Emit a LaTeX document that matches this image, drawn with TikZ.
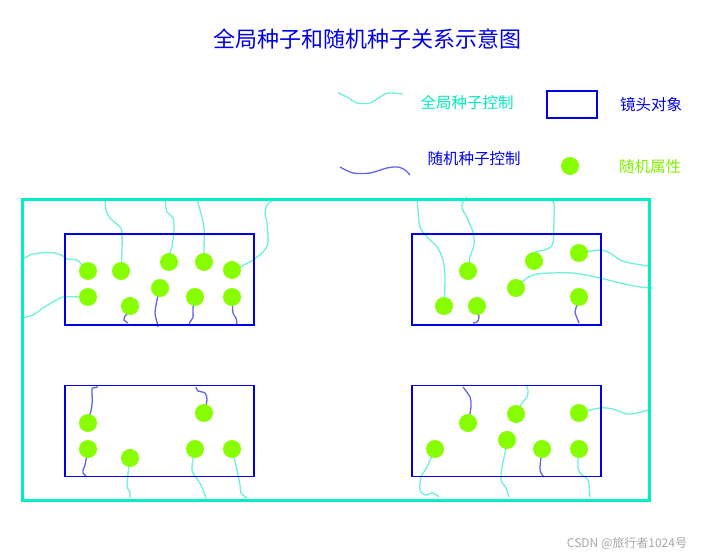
\documentclass[tikz,border=0pt]{standalone}
\usepackage{fontspec}
\setmainfont{Noto Sans CJK SC}
\usepackage{xcolor}
\usepackage{tikz}
\usetikzlibrary{positioning}

\definecolor{framecyan}{RGB}{0,240,196}
\definecolor{seedcyan}{RGB}{110,240,220}
\definecolor{seedblue}{RGB}{100,100,230}
\definecolor{lensblue}{RGB}{0,0,230}
\definecolor{attrgreen}{RGB}{136,255,0}
\definecolor{textcyan}{RGB}{0,235,190}
\definecolor{textgreen}{RGB}{130,240,0}

\pgfdeclarelayer{back}
\pgfsetlayers{back,main}

\begin{document}
\begin{tikzpicture}[x=1pt,y=-1pt,
  lens/.style={draw=lensblue,line width=1.2pt,minimum width=189pt,minimum height=91pt,inner sep=0pt},
  attr/.style={circle,fill=attrgreen,minimum size=18pt,inner sep=0pt},
  gseed/.style={draw=seedcyan,line width=1.3pt},
  rseed/.style={draw=seedblue,line width=1.3pt},
  lbl/.style={inner sep=0pt,font=\fontsize{15.5}{18}\selectfont}]
  \useasboundingbox (0,0) rectangle (706,556);

  \node[inner sep=0pt,text=lensblue,font=\fontsize{22}{26}\selectfont] (title) at (367,39) {全局种子和随机种子关系示意图};

  % legend
  \draw[gseed] plot[smooth] coordinates {(338,93) (347,97) (357,103) (370,103) (380,97) (388,93) (403,94)};
  \node[lbl,text=textcyan] (lg1) at (467,103) {全局种子控制};
  \node[draw=lensblue,line width=1.2pt,minimum width=50pt,minimum height=27pt,inner sep=0pt] (lgbox) at (572,104.5) {};
  \node[lbl,text=lensblue] (lg2) at (651,105) {镜头对象};
  \draw[rseed] plot[smooth] coordinates {(340,167) (353,173) (370,173) (387,168) (398,167) (405,170) (410,175)};
  \node[lbl,text=lensblue] (lg3) at (474,159) {随机种子控制};
  \node[attr] (lgdot) at (570,166) {};
  \node[lbl,text=textgreen] (lg4) at (650,167) {随机属性};

  % lens boxes
  \node[lens] (boxa) at (159.5,279.5) {};
  \node[lens] (boxb) at (506.5,279.5) {};
  \node[lens] (boxc) at (159.5,431) {};
  \node[lens] (boxd) at (506.5,431) {};

  % attributes
  \node[attr] (a1) at (88,271) {};
  \node[attr] (a2) at (121,271) {};
  \node[attr] (a3) at (169,262) {};
  \node[attr] (a4) at (204,262) {};
  \node[attr] (a5) at (232,270) {};
  \node[attr] (a6) at (88,297) {};
  \node[attr] (a7) at (130,306) {};
  \node[attr] (a8) at (160,288) {};
  \node[attr] (a9) at (195,297) {};
  \node[attr] (a10) at (232,297) {};

  \node[attr] (b1) at (444,306) {};
  \node[attr] (b2) at (468,271) {};
  \node[attr] (b3) at (477,306) {};
  \node[attr] (b4) at (534,261) {};
  \node[attr] (b5) at (516,288) {};
  \node[attr] (b6) at (579,253) {};
  \node[attr] (b7) at (579,297) {};

  \node[attr] (c1) at (88,423) {};
  \node[attr] (c2) at (204,413) {};
  \node[attr] (c3) at (88,449) {};
  \node[attr] (c4) at (130,458) {};
  \node[attr] (c5) at (195,449) {};
  \node[attr] (c6) at (232,449) {};

  \node[attr] (d1) at (435,449) {};
  \node[attr] (d2) at (468,423) {};
  \node[attr] (d3) at (516,414) {};
  \node[attr] (d4) at (507,440) {};
  \node[attr] (d5) at (542,449) {};
  \node[attr] (d6) at (579,413) {};
  \node[attr] (d7) at (579,449) {};

  % seed lines
  \begin{pgfonlayer}{back}
    \draw[gseed] plot[smooth] coordinates {(a1) (82,265) (77,260) (67,259) (63,256) (55,253) (40,253) (30,255) (22,260)};
    \draw[gseed] plot[smooth] coordinates {(a6) (80,297) (63,297) (53,302) (43,308) (33,315) (22,318)};
    \draw[gseed] plot[smooth] coordinates {(a2) (122,250) (122,233) (120,227) (110,218) (106,210) (105,199)};
    \draw[gseed] plot[smooth] coordinates {(a3) (170,253) (172,247) (174,230) (173,218) (167,212) (165,199)};
    \draw[gseed] plot[smooth] coordinates {(a4) (204,250) (204,227) (200,210) (197,199)};
    \draw[gseed] plot[smooth] coordinates {(a5) (240,267) (253,260) (263,252) (268,243) (267,223) (265,213) (267,205) (272,201)};
    \draw[rseed] plot[smooth] coordinates {(a7) (128,313) (125,316) (124,320) (128,323)};
    \draw[rseed] plot[smooth] coordinates {(a8) (157,300) (155,313) (157,322) (158,327)};
    \draw[rseed] plot[smooth] coordinates {(a9) (193,308) (193,317) (190,322) (189,324)};
    \draw[rseed] plot[smooth] coordinates {(a10) (233,313) (236,318) (237,325)};

    \draw[gseed] plot[smooth] coordinates {(b1) (445,277) (443,260) (437,247) (427,237) (420,227) (418,210) (417,199)};
    \draw[gseed] plot[smooth] coordinates {(b2) (470,257) (474,245) (473,232) (467,218) (462,208) (463,202) (467,197)};
    \draw[gseed] plot[smooth] coordinates {(b4) (533,253) (547,249) (553,243) (554,217) (554,203) (550,200)};
    \draw[gseed] plot[smooth] coordinates {(b6) (600,250) (610,253) (620,260) (630,263) (648,266)};
    \draw[gseed] plot[smooth] coordinates {(b5) (527,278) (537,274) (553,273) (573,273) (600,278) (620,283) (640,287) (653,288)};
    \draw[rseed] plot[smooth] coordinates {(b3) (479,317) (477,322) (473,323)};
    \draw[rseed] plot[smooth] coordinates {(b7) (577,305) (575,312) (577,318) (579,323)};

    \draw[rseed] plot[smooth] coordinates {(c1) (92,405) (92,390) (93,388) (98,387)};
    \draw[rseed] plot[smooth] coordinates {(c2) (207,400) (205,393) (198,391) (196,387)};
    \draw[rseed] plot[smooth] coordinates {(c3) (85,465) (83,470) (83,473) (87,477)};
    \draw[gseed] plot[smooth] coordinates {(c4) (127,485) (130,492) (130,498)};
    \draw[gseed] plot[smooth] coordinates {(c5) (192,470) (200,483) (203,490) (206,498)};
    \draw[gseed] plot[smooth] coordinates {(c6) (237,470) (240,485) (241,493) (247,498)};

    \draw[rseed] plot[smooth] coordinates {(d2) (471,407) (470,397) (463,387)};
    \draw[rseed] plot[smooth] coordinates {(d5) (540,467) (541,473) (544,477)};
    \draw[gseed] plot[smooth] coordinates {(d3) (522,403) (527,397) (528,390) (526,385)};
    \draw[gseed] plot[smooth] coordinates {(d6) (600,408) (613,409) (627,414) (637,413) (648,410)};
    \draw[gseed] plot[smooth] coordinates {(d1) (427,467) (421,477) (420,490) (425,495) (433,493) (439,497)};
    \draw[gseed] plot[smooth] coordinates {(d4) (505,453) (502,467) (501,480) (506,488) (509,497)};
    \draw[gseed] plot[smooth] coordinates {(d7) (578,468) (582,475) (588,480) (590,497)};
  \end{pgfonlayer}

  % global frame
  \draw[framecyan,line width=3pt] (22.5,199.5) rectangle (649,500);

  \node[inner sep=0pt,text=black!35,font=\fontsize{12}{14}\selectfont] (mark) at (627,543) {CSDN @旅行者1024号};
\end{tikzpicture}
\end{document}
